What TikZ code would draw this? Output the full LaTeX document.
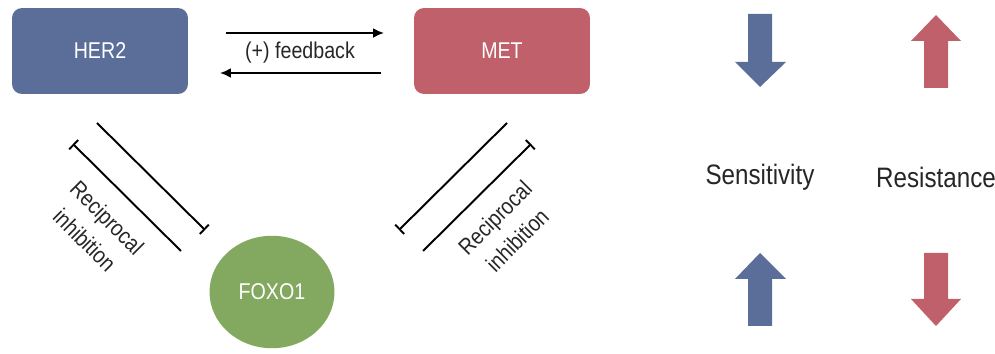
\documentclass[tikz,border=0pt]{standalone}
\usepackage{fontspec}
\setmainfont{Liberation Sans}[FakeStretch=0.86]
\usetikzlibrary{arrows.meta,positioning,shapes.geometric}
\definecolor{herblue}{HTML}{5A6E99}
\definecolor{metred}{HTML}{BF606A}
\definecolor{foxgreen}{HTML}{83A85F}
\tikzset{
  genebox/.style={rectangle, rounded corners=2mm, minimum width=3.52cm, minimum height=1.72cm, text=white, font=\fontsize{13}{15}\selectfont},
  inhib/.style={line width=1.1pt, -{Bar[width=2.6mm,line width=1.1pt]}},
  fb/.style={line width=1.1pt, -{Latex[length=2.2mm,width=2mm]}},
  lbl/.style={font=\fontsize{13}{18}\selectfont, align=center, text=black!85},
  legend/.style={font=\fontsize{16}{18}\selectfont, text=black!85}
}
\begin{document}
\begin{tikzpicture}[x=0.02cm, y=-0.02cm]
  \useasboundingbox (0,0) rectangle (995,354);
  \node (her2) [genebox, fill=herblue] at (100,51) {HER2};
  \node (met) [genebox, fill=metred] at (502,51) {MET};
  \node (foxo1) [ellipse, fill=foxgreen, minimum width=2.5cm, minimum height=2.25cm, text=white, font=\fontsize{13}{15}\selectfont] at (272,292) {FOXO1};

  % feedback
  \coordinate (fbA) at (226,33);
  \coordinate (fbB) at (384,33);
  \coordinate (fbC) at (381,73);
  \coordinate (fbD) at (220,73);
  \draw [fb] (fbA) -- (fbB);
  \draw [fb] (fbC) -- (fbD);
  \node (fbtext) [lbl] at (300,53) {(+) feedback};

  % reciprocal inhibition, left
  \coordinate (l1s) at (97,123);
  \coordinate (l1e) at (205,230);
  \coordinate (l2s) at (181,251);
  \coordinate (l2e) at (73,144);
  \draw [inhib] (l1s) -- (l1e);
  \draw [inhib] (l2s) -- (l2e);
  \node (ltext) [lbl, rotate=-45] at (96,229) {Reciprocal\\inhibition};

  % reciprocal inhibition, right
  \coordinate (r1s) at (507,123);
  \coordinate (r1e) at (399,230);
  \coordinate (r2s) at (423,251);
  \coordinate (r2e) at (531,144);
  \draw [inhib] (r1s) -- (r1e);
  \draw [inhib] (r2s) -- (r2e);
  \node (rtext) [lbl, rotate=45] at (506,229) {Reciprocal\\inhibition};

  % legend
  \node (sens) [legend] at (760,177) {Sensitivity};
  \node (resi) [legend] at (936,177) {Resistance};
  \fill [herblue] (748,14) -- (772,14) -- (772,62) -- (786,62) -- (760,87) -- (735,62) -- (748,62) -- cycle;
  \fill [herblue] (748,326) -- (772,326) -- (772,279) -- (786,279) -- (760,253) -- (735,279) -- (748,279) -- cycle;
  \fill [metred] (924,88) -- (948,88) -- (948,41) -- (961,41) -- (936,15) -- (911,41) -- (924,41) -- cycle;
  \fill [metred] (924,253) -- (948,253) -- (948,299) -- (961,299) -- (936,326) -- (911,299) -- (924,299) -- cycle;
\end{tikzpicture}
\end{document}
